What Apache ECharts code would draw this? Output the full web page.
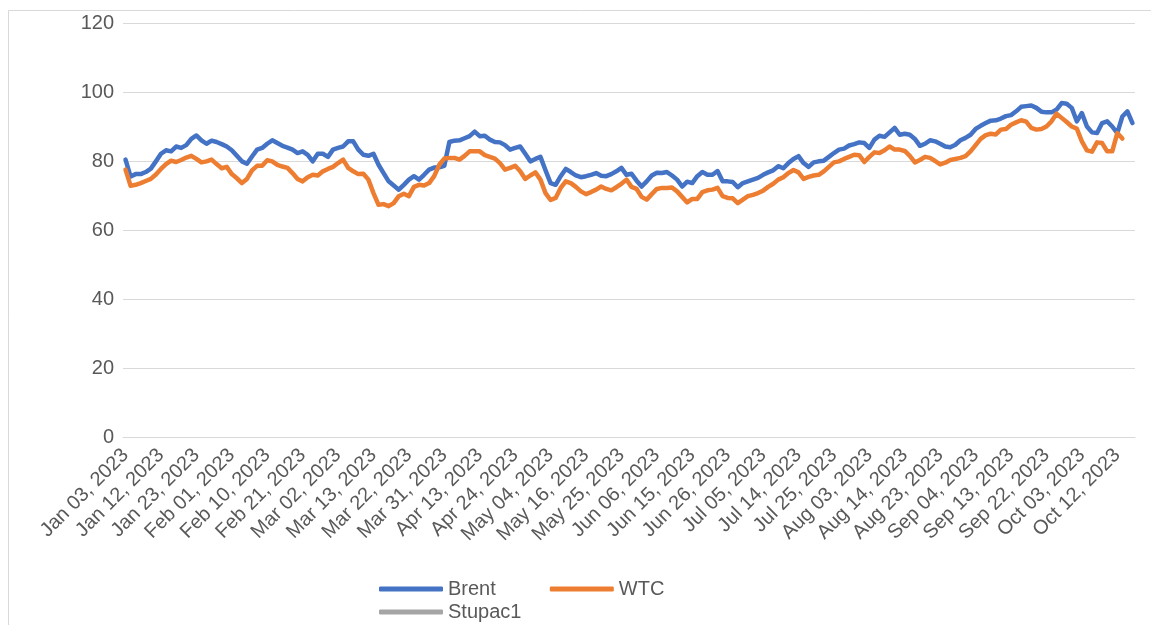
<!DOCTYPE html>
<html>
<head>
<meta charset="utf-8">
<script src="https://cdn.jsdelivr.net/npm/echarts@6/dist/echarts.min.js"></script>
<style>
html,body{margin:0;padding:0;background:#fff;}
#chart{width:1151px;height:625px;}
</style>
</head>
<body>
<div id="chart"></div>
<script>
// ---- data ----
const startDate = '2023-01-03';
const pointCount = 200;
const holidays = ['2023-04-07','2023-04-10','2023-05-01','2023-05-08','2023-05-29','2023-08-28'];
const monthNames = ['Jan','Feb','Mar','Apr','May','Jun','Jul','Aug','Sep','Oct','Nov','Dec'];

const brent = [
80.4, 75.5, 76.2, 76.2, 76.8, 77.8, 79.9, 82.1, 83.1, 82.8,
84.2, 83.8, 84.6, 86.4, 87.4, 86.0, 85.0, 85.9, 85.5, 84.9,
84.2, 83.1, 81.5, 79.9, 79.2, 81.3, 83.3, 83.8, 85.0, 86.0,
85.2, 84.4, 83.9, 83.3, 82.3, 82.8, 81.8, 79.9, 82.1, 82.1,
81.2, 83.3, 83.8, 84.2, 85.7, 85.7, 83.3, 81.8, 81.5, 82.1,
78.9, 76.5, 74.1, 72.9, 71.7, 73.1, 74.6, 75.6, 74.6, 76.0,
77.5, 78.1, 78.2, 78.6, 85.5, 85.9, 86.0, 86.6, 87.2, 88.5,
87.2, 87.3, 86.2, 85.5, 85.4, 84.6, 83.3, 83.8, 84.2, 82.1,
79.9, 80.6, 81.2, 77.3, 73.6, 73.1, 75.6, 77.7, 76.8, 75.8,
75.3, 75.6, 76.0, 76.5, 75.7, 75.6, 76.2, 77.0, 78.0, 76.0,
76.3, 74.3, 72.6, 74.1, 75.8, 76.6, 76.5, 76.8, 75.8, 74.6,
72.6, 74.0, 73.6, 75.6, 76.8, 76.0, 76.0, 77.1, 74.1, 74.1,
73.9, 72.4, 73.6, 74.1, 74.6, 75.1, 76.0, 76.7, 77.3, 78.5,
77.9, 79.4, 80.6, 81.4, 79.4, 78.3, 79.6, 79.9, 80.1, 81.2,
82.3, 83.3, 83.6, 84.5, 84.9, 85.4, 85.2, 83.8, 86.2, 87.3,
87.0, 88.3, 89.6, 87.6, 87.9, 87.6, 86.4, 84.4, 85.0, 86.0,
85.7, 85.0, 84.2, 84.0, 84.7, 86.0, 86.7, 87.6, 89.3, 90.2,
91.0, 91.7, 91.8, 92.3, 93.0, 93.3, 94.4, 95.7, 95.9, 96.1,
95.4, 94.3, 94.1, 94.1, 94.9, 96.8, 96.6, 95.4, 91.5, 93.9,
90.0, 88.3, 88.1, 91.0, 91.5, 90.0, 88.1, 92.9, 94.4, 91.0
];

const wtc = [
77.5, 72.8, 73.1, 73.6, 74.2, 74.8, 76.1, 77.7, 79.1, 80.1,
79.7, 80.3, 81.0, 81.5, 80.6, 79.6, 79.9, 80.4, 79.1, 77.9,
78.3, 76.2, 75.0, 73.6, 74.8, 77.3, 78.6, 78.6, 80.2, 79.9,
78.9, 78.4, 78.0, 76.5, 74.8, 74.1, 75.3, 76.0, 75.8, 77.0,
77.7, 78.3, 79.4, 80.4, 78.0, 77.0, 76.2, 76.3, 74.6, 70.7,
67.3, 67.5, 66.9, 67.8, 69.8, 70.5, 69.8, 72.5, 73.1, 72.9,
73.6, 75.6, 78.9, 80.7, 80.9, 80.9, 80.4, 81.5, 82.8, 82.8,
82.8, 81.7, 81.2, 80.7, 79.4, 77.5, 78.0, 78.6, 77.0, 74.8,
75.8, 76.7, 74.6, 70.7, 68.7, 69.3, 72.2, 74.1, 73.6, 72.5,
71.2, 70.4, 71.0, 71.7, 72.6, 71.9, 71.5, 72.4, 73.4, 74.6,
72.5, 71.9, 69.6, 68.8, 70.4, 71.9, 72.2, 72.2, 72.3, 71.2,
69.6, 68.0, 69.0, 69.0, 71.0, 71.5, 71.7, 72.2, 69.8, 69.3,
69.2, 67.8, 68.8, 69.8, 70.2, 70.7, 71.4, 72.5, 73.4, 74.6,
75.3, 76.5, 77.4, 76.7, 74.8, 75.4, 75.8, 76.0, 77.0, 78.3,
79.6, 79.9, 80.6, 81.2, 81.8, 81.7, 79.7, 81.2, 82.5, 82.3,
83.1, 84.2, 83.3, 83.3, 82.9, 81.5, 79.6, 80.3, 81.2, 80.9,
80.0, 79.0, 79.5, 80.3, 80.6, 80.9, 81.4, 82.8, 84.6, 86.4,
87.5, 87.9, 87.7, 89.1, 89.3, 90.5, 91.2, 91.8, 91.4, 89.6,
89.1, 89.3, 90.0, 91.5, 93.7, 92.5, 91.3, 90.0, 89.4, 85.7,
83.1, 82.7, 85.4, 85.2, 82.8, 82.8, 88.1, 86.5, null, null
];

const stupac1 = [];

const yTicks = { min: 0, max: 120, interval: 20 };

// trading-day calendar (weekdays minus listed holidays)
function buildCategories(start, count, hol) {
  const out = [];
  const d = new Date(start + 'T00:00:00Z');
  while (out.length < count) {
    const wd = d.getUTCDay();
    const iso = d.toISOString().slice(0, 10);
    if (wd !== 0 && wd !== 6 && hol.indexOf(iso) < 0) {
      const dd = String(d.getUTCDate()).padStart(2, '0');
      out.push(monthNames[d.getUTCMonth()] + ' ' + dd + ', ' + d.getUTCFullYear());
    }
    d.setUTCDate(d.getUTCDate() + 1);
  }
  return out;
}
const categories = buildCategories(startDate, pointCount, holidays);

// ---- chart ----
const FONT = 'Liberation Sans, Arial, sans-serif';
const TXT = '#595959';
const chart = echarts.init(document.getElementById('chart'), null, { renderer: 'canvas' });
chart.setOption({
  animation: false,
  backgroundColor: '#ffffff',
  graphic: [{
    type: 'rect',
    shape: { x: 8.5, y: 10.5, width: 1200, height: 700 },
    style: { fill: 'none', stroke: '#D9D9D9', lineWidth: 1 },
    silent: true, z: -10
  }],
  grid: { left: 123, right: 16, top: 23, bottom: 188, containLabel: false },
  legend: [{
    left: 374, top: 574,
    data: ['Brent', 'WTC'],
    icon: 'roundRect', itemWidth: 64, itemHeight: 5, itemGap: 54,
    textStyle: { color: TXT, fontSize: 20, fontFamily: FONT },
    selectedMode: false
  }, {
    left: 374, top: 597,
    data: ['Stupac1'],
    icon: 'roundRect', itemWidth: 64, itemHeight: 5,
    textStyle: { color: TXT, fontSize: 20, fontFamily: FONT },
    selectedMode: false
  }],
  xAxis: {
    type: 'category',
    data: categories,
    boundaryGap: true,
    axisLine: { show: true, lineStyle: { color: '#D9D9D9', width: 1 } },
    axisTick: { show: false },
    axisLabel: {
      interval: 6, rotate: 45, color: TXT, fontSize: 20, fontFamily: FONT, margin: 15
    },
    splitLine: { show: false }
  },
  yAxis: {
    type: 'value',
    min: yTicks.min, max: yTicks.max, interval: yTicks.interval,
    axisLine: { show: false },
    axisTick: { show: false },
    axisLabel: { color: TXT, fontSize: 20, fontFamily: FONT, margin: 9 },
    splitLine: { lineStyle: { color: '#D9D9D9', width: 1 } }
  },
  series: [{
    name: 'Brent', type: 'line', data: brent, showSymbol: false, symbol: 'none',
    itemStyle: { color: '#4472C4' },
    lineStyle: { color: '#4472C4', width: 4.5, cap: 'round', join: 'round' }
  }, {
    name: 'WTC', type: 'line', data: wtc, showSymbol: false, symbol: 'none',
    itemStyle: { color: '#ED7D31' },
    lineStyle: { color: '#ED7D31', width: 4.5, cap: 'round', join: 'round' }
  }, {
    name: 'Stupac1', type: 'line', data: stupac1, showSymbol: false, symbol: 'none',
    itemStyle: { color: '#A5A5A5' },
    lineStyle: { color: '#A5A5A5', width: 4.5 }
  }]
});
</script>
</body>
</html>
